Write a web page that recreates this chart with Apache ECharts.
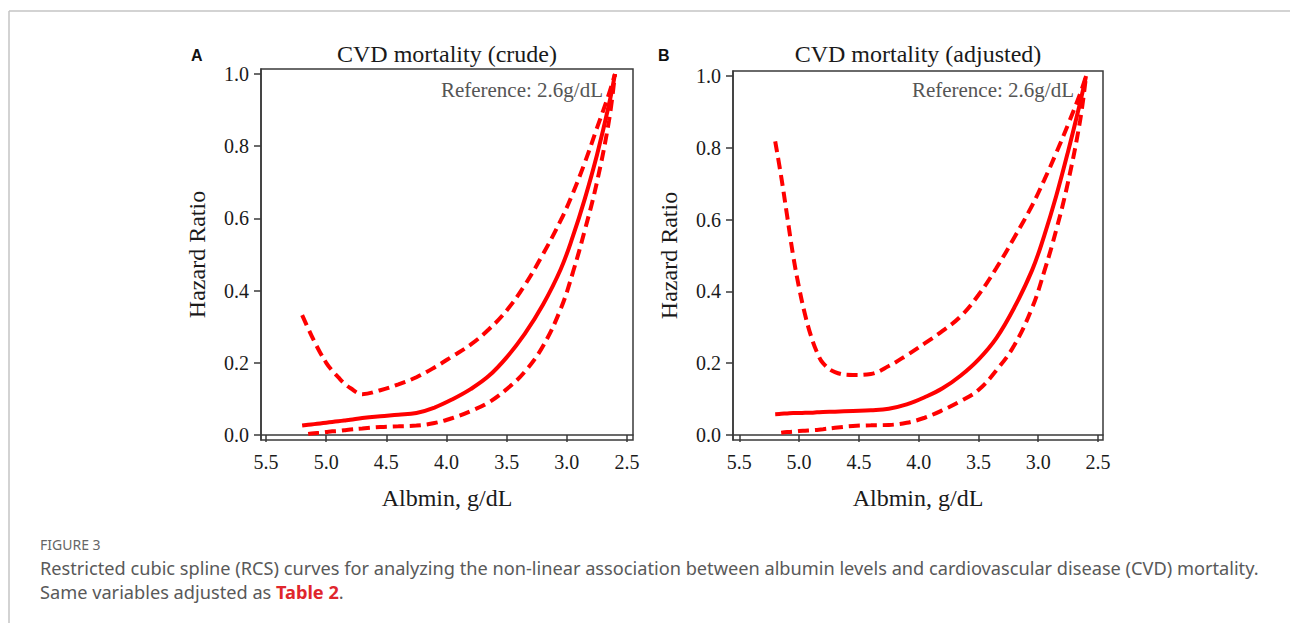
<!DOCTYPE html>
<html>
<head>
<meta charset="utf-8">
<script src="https://cdn.jsdelivr.net/npm/echarts@6.0.0/dist/echarts.min.js"></script>
<style>
  html, body { margin: 0; padding: 0; background: #fff; }
  #chart { width: 1290px; height: 623px; }
</style>
</head>
<body>
<div id="chart"></div>
<script>
// albumin grid (g/dL), shared by every curve
const albumin = [5.2, 5.15, 5.1, 5.05, 5.0, 4.95, 4.9, 4.85, 4.8, 4.7, 4.55, 4.4, 4.25, 4.1, 3.95, 3.8, 3.65, 3.5, 3.35, 3.2, 3.05, 2.95, 2.85, 2.75, 2.65, 2.6]

// panel A - crude
const hrCrude = [0.026, 0.028, 0.030, 0.032, 0.034, 0.036, 0.038, 0.040, 0.042, 0.047, 0.052, 0.056, 0.061, 0.076, 0.099, 0.127, 0.163, 0.215, 0.28, 0.36, 0.46, 0.55, 0.655, 0.775, 0.915, 1.0]
const upperCrude = [0.332, 0.295, 0.26, 0.228, 0.2, 0.178, 0.16, 0.143, 0.13, 0.113, 0.124, 0.14, 0.16, 0.187, 0.218, 0.25, 0.292, 0.345, 0.415, 0.5, 0.595, 0.67, 0.755, 0.85, 0.945, 1.0]
const lowerCrude = [null, 0.003, 0.005, 0.006, 0.008, 0.010, 0.011, 0.013, 0.015, 0.018, 0.022, 0.024, 0.026, 0.033, 0.047, 0.066, 0.09, 0.127, 0.175, 0.245, 0.35, 0.45, 0.568, 0.70, 0.87, 1.0]

// panel B - adjusted
const hrAdj = [0.058, 0.059, 0.060, 0.061, 0.061, 0.062, 0.062, 0.063, 0.064, 0.065, 0.067, 0.069, 0.073, 0.085, 0.105, 0.13, 0.165, 0.21, 0.27, 0.355, 0.46, 0.555, 0.665, 0.79, 0.925, 1.0]
const upperAdj = [0.818, 0.72, 0.61, 0.5, 0.41, 0.335, 0.275, 0.23, 0.2, 0.175, 0.167, 0.17, 0.192, 0.222, 0.255, 0.29, 0.33, 0.39, 0.465, 0.55, 0.64, 0.71, 0.785, 0.865, 0.95, 1.0]
const lowerAdj = [null, 0.006, 0.008, 0.009, 0.011, 0.012, 0.013, 0.014, 0.016, 0.02, 0.025, 0.027, 0.028, 0.034, 0.048, 0.069, 0.094, 0.125, 0.18, 0.25, 0.355, 0.455, 0.57, 0.705, 0.875, 1.0]

// tick labels
const xTicks = [5.5, 5.0, 4.5, 4.0, 3.5, 3.0, 2.5]
const yTicks = [0, 0.2, 0.4, 0.6, 0.8, 1.0]

const serif = '"Liberation Serif", "Times New Roman", serif'
const sans = '"Noto Sans", sans-serif'
const red = '#ff0000'
const axisColor = '#3a3a3a'

const chart = echarts.init(document.getElementById('chart'), null, { renderer: 'svg' })

const pairs = (ys) => albumin.map((x, i) => [x, ys[i]])

// x 轴
const _xAxis = {
  type: 'value',
  inverse: true,
  axisLine: { show: true, lineStyle: { color: axisColor, width: 1.5 } },
  axisTick: { show: true, length: 7, lineStyle: { color: axisColor, width: 1.5 }, customValues: xTicks },
  axisLabel: {
    customValues: xTicks,
    margin: 12,
    color: '#1a1a1a',
    fontFamily: serif,
    fontSize: 20,
    formatter: (v) => v.toFixed(1)
  },
  splitLine: { show: false },
  name: 'Albmin, g/dL',
  nameLocation: 'middle',
  nameGap: 46,
  nameTextStyle: { fontFamily: serif, fontSize: 24, color: '#1a1a1a' }
}

// y 轴
const _yAxis = {
  type: 'value',
  min: -0.014,
  max: 1.014,
  axisLine: { show: true, lineStyle: { color: axisColor, width: 1.5 } },
  axisTick: { show: true, length: 7, lineStyle: { color: axisColor, width: 1.5 }, customValues: yTicks },
  axisLabel: {
    customValues: yTicks,
    margin: 12,
    color: '#1a1a1a',
    fontFamily: serif,
    fontSize: 20,
    formatter: (v) => v.toFixed(1)
  },
  splitLine: { show: false },
  name: 'Hazard Ratio',
  nameLocation: 'middle',
  nameGap: 52,
  nameTextStyle: { fontFamily: serif, fontSize: 24, color: '#1a1a1a' }
}

const xAxis = [
  { ..._xAxis, gridIndex: 0, min: 2.45, max: 5.542 },
  { ..._xAxis, gridIndex: 1, min: 2.458, max: 5.553 }
]
const yAxis = [
  { ..._yAxis, gridIndex: 0 },
  { ..._yAxis, gridIndex: 1 }
]

const _grid = {
  show: true,
  borderColor: axisColor,
  borderWidth: 1.5,
  backgroundColor: 'transparent',
  outerBoundsMode: 'none'
}
const grid = [
  { ..._grid, left: 261, top: 69, width: 372, height: 371 },
  { ..._grid, left: 733, top: 71, width: 370, height: 369 }
]

// series
const _series = {
  type: 'line',
  smooth: 0.4,
  showSymbol: false,
  symbol: 'none',
  silent: true,
  lineStyle: { color: red, width: 4 }
}
const dashed = { color: red, width: 4, type: [11, 6], cap: 'butt' }

const series = [
  { ..._series, xAxisIndex: 0, yAxisIndex: 0, data: pairs(hrCrude) },
  { ..._series, xAxisIndex: 0, yAxisIndex: 0, data: pairs(upperCrude), lineStyle: dashed },
  { ..._series, xAxisIndex: 0, yAxisIndex: 0, data: pairs(lowerCrude), lineStyle: dashed },
  { ..._series, xAxisIndex: 1, yAxisIndex: 1, data: pairs(hrAdj) },
  { ..._series, xAxisIndex: 1, yAxisIndex: 1, data: pairs(upperAdj), lineStyle: dashed },
  { ..._series, xAxisIndex: 1, yAxisIndex: 1, data: pairs(lowerAdj), lineStyle: dashed }
]

// titles, panel letters, reference note, caption, page frame
const graphic = [
  { type: 'line', shape: { x1: 9, y1: 11, x2: 1290, y2: 11 }, style: { stroke: '#c4c4c4', lineWidth: 1.5 } },
  { type: 'line', shape: { x1: 9, y1: 11, x2: 9, y2: 623 }, style: { stroke: '#c4c4c4', lineWidth: 1.5 } },

  { type: 'text', x: 191, y: 55, style: { text: 'A', font: 'bold 16px "Liberation Sans", Arial, sans-serif', fill: '#111', verticalAlign: 'middle' } },
  { type: 'text', x: 658, y: 55, style: { text: 'B', font: 'bold 16px "Liberation Sans", Arial, sans-serif', fill: '#111', verticalAlign: 'middle' } },

  { type: 'text', x: 447, y: 54, style: { text: 'CVD mortality (crude)', font: '24px ' + serif, fill: '#1a1a1a', align: 'center', verticalAlign: 'middle' } },
  { type: 'text', x: 918, y: 54, style: { text: 'CVD mortality (adjusted)', font: '24px ' + serif, fill: '#1a1a1a', align: 'center', verticalAlign: 'middle' } },

  { type: 'text', x: 603, y: 90, style: { text: 'Reference: 2.6g/dL', font: '21px ' + serif, fill: '#555', align: 'right', verticalAlign: 'middle' } },
  { type: 'text', x: 1074, y: 90, style: { text: 'Reference: 2.6g/dL', font: '21px ' + serif, fill: '#555', align: 'right', verticalAlign: 'middle' } },

  { type: 'text', x: 40, y: 544, style: { text: 'FIGURE 3', font: '14px ' + sans, fill: '#666', verticalAlign: 'middle' } },
  { type: 'text', x: 40, y: 568, style: { text: 'Restricted cubic spline (RCS) curves for analyzing the non-linear association between albumin levels and cardiovascular disease (CVD) mortality.', font: '18.2px ' + sans, fill: '#595959', verticalAlign: 'middle' } },
  {
    type: 'text', x: 40, y: 592,
    style: {
      text: 'Same variables adjusted as {b|Table 2}.',
      font: '18.2px ' + sans,
      fill: '#595959',
      verticalAlign: 'middle',
      rich: { b: { fontFamily: sans, fontSize: 18.2, fontWeight: 'bold', fill: '#e0262c' } }
    }
  }
]

chart.setOption({
  animation: false,
  grid,
  xAxis,
  yAxis,
  series,
  graphic
})
</script>
</body>
</html>
